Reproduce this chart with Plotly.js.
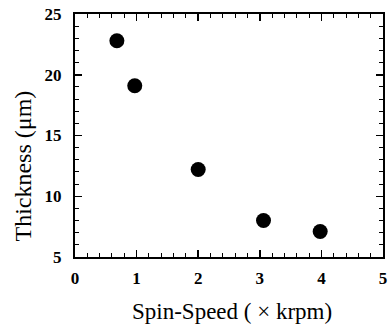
<!DOCTYPE html>
<html><head><meta charset="utf-8">
<script src="https://cdn.plot.ly/plotly-3.0.1.min.js"></script>
<style>html,body{margin:0;padding:0;background:#fff}#c{width:391px;height:327px}</style>
</head><body><div id="c"></div>
<script>
const spinSpeed = [0.68, 0.97, 2.0, 3.06, 3.98];
const thickness = [22.8, 19.1, 12.2, 8.0, 7.1];
const xTicks = [0, 1, 2, 3, 4, 5];
const yTicks = [5, 10, 15, 20, 25];
const xTitle = 'Spin-Speed ( × krpm)';
const yTitle = 'Thickness (μm)';

const serif = 'Liberation Serif';
const trace = {
  x: spinSpeed, y: thickness, type: 'scatter', mode: 'markers',
  marker: {color: '#000', size: 15}, hoverinfo: 'none', cliponaxis: false
};
const axisCommon = {
  showgrid: false, zeroline: false, showline: true, linecolor: '#000', linewidth: 2,
  mirror: 'ticks', ticks: 'inside', ticklen: 7, tickwidth: 1.5, tickcolor: '#000',
  tickfont: {family: serif, size: 17, color: '#000', weight: 'bold'},
  fixedrange: true
};
const layout = {
  width: 391, height: 327,
  margin: {l: 75, r: 8, t: 14, b: 70},
  paper_bgcolor: '#fff', plot_bgcolor: '#fff', showlegend: false,
  xaxis: Object.assign({}, axisCommon, {
    range: [0, 5], tickvals: xTicks, ticktext: xTicks.map(String),
    ticklabelstandoff: 5,
    minor: {dtick: 0.2, ticks: 'inside', ticklen: 4, tickwidth: 1, tickcolor: '#000'}
  }),
  yaxis: Object.assign({}, axisCommon, {
    range: [5, 25], tickvals: yTicks, ticktext: yTicks.map(String),
    ticklabelstandoff: 8,
    minor: {dtick: 1, ticks: 'inside', ticklen: 4, tickwidth: 1, tickcolor: '#000'}
  }),
  annotations: [
    {text: xTitle, xref: 'paper', yref: 'paper', x: 0.51, y: -0.225, xanchor: 'center', yanchor: 'middle',
     showarrow: false, font: {family: serif, size: 23, color: '#000'}},
    {text: yTitle, xref: 'paper', yref: 'paper', x: -0.17, y: 0.375, xanchor: 'center', yanchor: 'middle',
     textangle: -90, showarrow: false, font: {family: serif, size: 24, color: '#000'}}
  ]
};
Plotly.newPlot('c', [trace], layout, {staticPlot: true, displayModeBar: false});
</script></body></html>
